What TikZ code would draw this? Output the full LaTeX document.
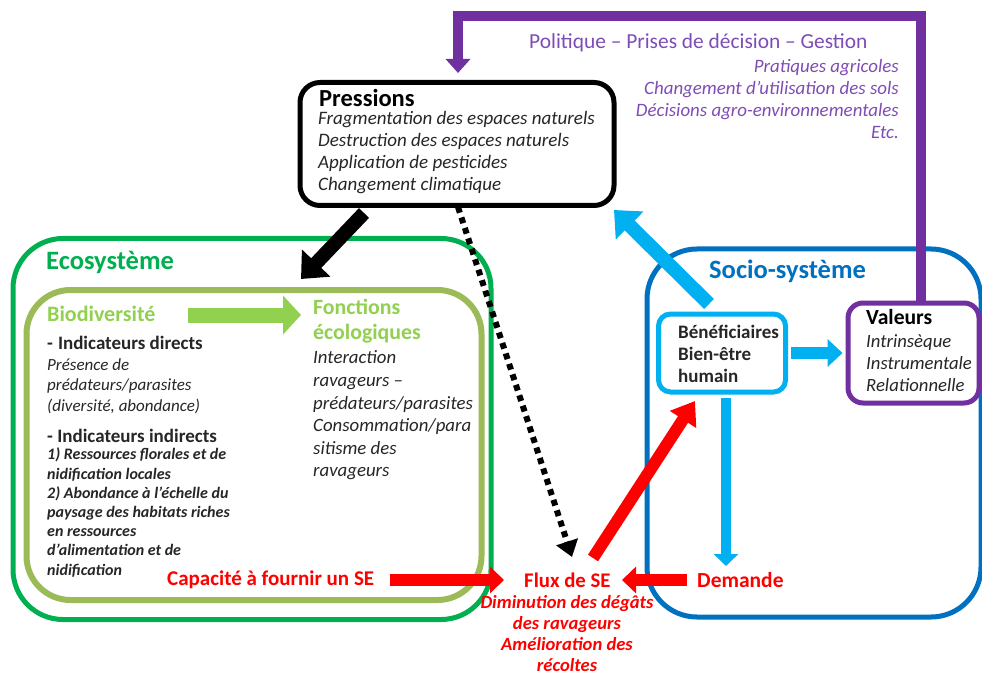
\documentclass[tikz,border=0pt]{standalone}
\usepackage{fontspec}
\setmainfont{Carlito}
\usetikzlibrary{arrows.meta}
\definecolor{cpurple}{HTML}{7030A0}
\definecolor{cpurpletxt}{HTML}{7E4CB5}
\definecolor{cgreen}{HTML}{00B050}
\definecolor{clgreen}{HTML}{92D050}
\definecolor{colive}{HTML}{9BBB59}
\definecolor{cblue}{HTML}{0070C0}
\definecolor{clblue}{HTML}{00B0F0}
\definecolor{cred}{HTML}{FF0000}
\definecolor{ctext}{HTML}{262626}
\newcommand\fsz[2]{\fontsize{#1}{#2}\selectfont}
\tikzset{
  frame/.style={rectangle, draw, fill=white, inner sep=0pt},
  txt/.style={anchor=west, inner sep=0pt, align=left},
  fat/.style n args={3}{line width=#1, -{Triangle[width=#2, length=#3]}},
}
\begin{document}
\begin{tikzpicture}[x=1pt,y=-1pt]
\useasboundingbox (0,0) rectangle (982,676);

% ---------- boxes ----------
\node[frame, draw=cgreen, line width=5pt, rounded corners=50pt,
      minimum width=478pt, minimum height=381pt] (eco) at (252,429) {};
\node[frame, draw=colive, line width=6pt, rounded corners=44pt,
      minimum width=455pt, minimum height=310pt] (bio) at (254,445) {};
\node[frame, draw=cblue, line width=5pt, rounded corners=50pt,
      minimum width=334pt, minimum height=368pt] (soc) at (814,433) {};
\node[frame, draw=black, line width=5pt, rounded corners=20pt,
      minimum width=314pt, minimum height=123pt] (pres) at (457,144) {};
\node[frame, draw=clblue, line width=5pt, rounded corners=12pt,
      minimum width=127pt, minimum height=78pt] (ben) at (722,353) {};
\node[frame, draw=cpurple, line width=5pt, rounded corners=15pt,
      minimum width=131pt, minimum height=100pt] (val) at (913.5,353) {};

% ---------- texts ----------
\node[txt, text=cpurpletxt, font=\fsz{21.4}{24}] (pol) at (529,43)
  {Politique – Prises de décision – Gestion};
\node[anchor=east, inner sep=0pt, align=right, text=cpurpletxt, font=\fsz{18.9}{22}\itshape] (polx) at (899,99)
  {Pratiques agricoles\\Changement d’utilisation des sols\\Décisions agro-environnementales\\Etc.};

\node[txt, font=\fsz{24.5}{26}\bfseries] (prest) at (319,98) {Pressions};
\node[txt, text=ctext, font=\fsz{19}{22}\itshape] (presx) at (318,153)
  {Fragmentation des espaces naturels\\Destruction des espaces naturels\\Application de pesticides\\Changement climatique};

\node[txt, text=cgreen, font=\fsz{26.5}{28}\bfseries] (ecot) at (46,262) {Ecosystème};
\node[txt, text=clgreen, font=\fsz{22}{24}\bfseries] (biot) at (47,314) {Biodiversité};
\node[txt, text=ctext, font=\fsz{19}{22}\bfseries] (ind1) at (47,343) {-\hspace{5pt}Indicateurs directs};
\node[txt, text=ctext, font=\fsz{17}{20.5}\itshape] (ind1x) at (47,386)
  {Présence de\\prédateurs/parasites\\(diversité, abondance)};
\node[txt, text=ctext, font=\fsz{19}{22}\bfseries] (ind2) at (47,436) {- Indicateurs indirects};
\node[txt, text=ctext, font=\fsz{16}{19.2}\bfseries\itshape] (ind2x) at (47,512.5)
  {1) Ressources florales et de\\nidification locales\\2) Abondance à l’échelle du\\paysage des habitats riches\\en ressources\\d’alimentation et de\\nidification};

\node[txt, text=clgreen, font=\fsz{21.8}{25}\bfseries] (fonct) at (313,321.5) {Fonctions\\écologiques};
\node[txt, text=ctext, font=\fsz{18.8}{22.6}\itshape] (fonx) at (313,415.5)
  {Interaction\\ravageurs –\\prédateurs/parasites\\Consommation/para\\sitisme des\\ravageurs};

\node[txt, text=cblue, font=\fsz{26.5}{28}\bfseries] (soct) at (709,271) {Socio-système};
\node[txt, text=ctext, font=\fsz{19}{22}\bfseries] (bent) at (678,354) {Bénéficiaires\\Bien-être\\humain};
\node[txt, font=\fsz{21.6}{24}\bfseries] (valt) at (866,317) {Valeurs};
\node[txt, text=ctext, font=\fsz{18.7}{22}\itshape] (valx) at (866,363) {Intrinsèque\\Instrumentale\\Relationnelle};

\node[txt, text=cred, font=\fsz{21}{24}\bfseries] (cap) at (167,580) {Capacité à fournir un SE};
\node[txt, text=cred, font=\fsz{20.8}{24}\bfseries] (flux) at (524,580) {Flux de SE};
\node[txt, text=cred, font=\fsz{21.5}{24}\bfseries] (dem) at (697,580) {Demande};
\node[anchor=center, inner sep=0pt, align=center, text=cred, font=\fsz{18.6}{21}\bfseries\itshape] (fluxx) at (567,634)
  {Diminution des dégâts\\des ravageurs\\Amélioration des\\récoltes};

% ---------- arrow end points ----------
\coordinate (gS) at (188,315);  \coordinate (gE) at (301,315);
\coordinate (kS) at (364,213);  \coordinate (kE) at (301,279);
\coordinate (dS) at (458,207);  \coordinate (dE) at (572,557);
\coordinate (bS) at (709,304);  \coordinate (bE) at (614,210);
\coordinate (rS) at (593,558);  \coordinate (rE) at (695,401);
\coordinate (cS) at (390,580);  \coordinate (cE) at (504,580);
\coordinate (mS) at (687,580);  \coordinate (mE) at (622,580);
\coordinate (vE) at (726,566);

% ---------- connectors ----------
\draw[cpurple, fat={10pt}{24pt}{14pt}, shorten >=7pt]
  ([xshift=7.5pt]val.north) -- ([xshift=7.5pt, yshift=284pt]val.north) -| ([xshift=1pt]pres.north);
\draw[clgreen, fat={15pt}{38pt}{18pt}] (gS) -- (gE);
\draw[black, fat={14pt}{38pt}{22pt}] (kS) -- (kE);
\draw[black, line width=6pt, dash pattern=on 6pt off 5pt, -{Triangle[width=22pt, length=16pt]}] (dS) -- (dE);
\draw[clblue, fat={14pt}{38pt}{22pt}] (bS) -- (bE);
\draw[clblue, fat={12pt}{27pt}{15pt}] ([xshift=3pt]ben.east) -- ([xshift=-3pt]val.west);
\draw[clblue, fat={10pt}{24pt}{12pt}] ([xshift=4pt, yshift=-3pt]ben.south) -- (vE);
\draw[cred, fat={12pt}{30pt}{22pt}] (rS) -- (rE);
\draw[cred, fat={12pt}{26pt}{14pt}] (cS) -- (cE);
\draw[cred, fat={12pt}{26pt}{14pt}] (mS) -- (mE);
\end{tikzpicture}
\end{document}
